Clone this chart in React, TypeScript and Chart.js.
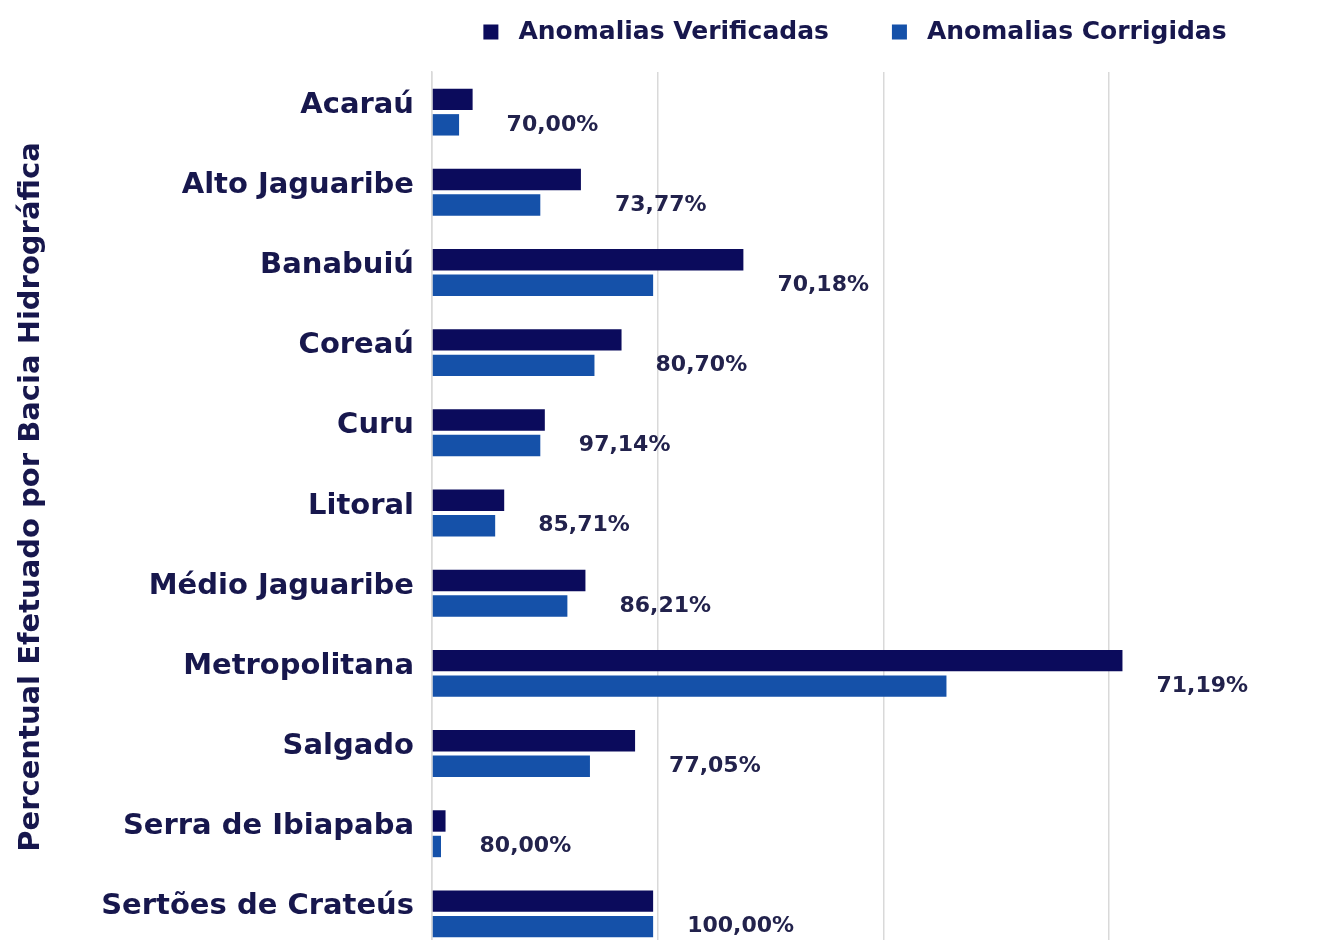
import React, { useEffect, useRef } from "react";
import { Chart, registerables } from "chart.js";

Chart.register(...registerables);

const categories = [
  "Acaraú",
  "Alto Jaguaribe",
  "Banabuiú",
  "Coreaú",
  "Curu",
  "Litoral",
  "Médio Jaguaribe",
  "Metropolitana",
  "Salgado",
  "Serra de Ibiapaba",
  "Sertões de Crateús",
];
const verificadas = [9, 33, 69, 42, 25, 16, 34, 153, 45, 3, 49];
const corrigidas = [6, 24, 49, 36, 24, 14, 30, 114, 35, 2, 49];
const percentLabels = [
  "70,00%",
  "73,77%",
  "70,18%",
  "80,70%",
  "97,14%",
  "85,71%",
  "86,21%",
  "71,19%",
  "77,05%",
  "80,00%",
  "100,00%",
];
const seriesNames = ["Anomalias Verificadas", "Anomalias Corrigidas"];
const axisTitle = "Percentual Efetuado por Bacia Hidrográfica";
const xMax = 195;
const xStep = 50;

const DARK = "#0b0b5c";
const BLUE = "#1551a9";
const TEXT = "#17174d";
const LABEL_TEXT = "#22224c";
const GRID = "#d9d9d9";
const FONT = "'DejaVu Sans', sans-serif";

const legendPlugin = {
  id: "customLegend",
  afterDraw(chart: any) {
    const ctx = chart.ctx;
    ctx.save();
    ctx.font = `bold 25px ${FONT}`;
    ctx.textBaseline = "middle";
    ctx.textAlign = "left";
    const box = 15;
    const gap = 20;
    const itemGap = 63;
    const items = chart.data.datasets.map((d: any) => ({
      label: d.label,
      color: d.backgroundColor,
      w: box + gap + ctx.measureText(d.label).width,
    }));
    const total =
      items.reduce((s: number, it: any) => s + it.w, 0) + itemGap * (items.length - 1);
    let x = 855 - total / 2;
    const cy = 32;
    items.forEach((it: any) => {
      ctx.fillStyle = it.color;
      ctx.fillRect(x, cy - box / 2, box, box);
      ctx.fillStyle = TEXT;
      ctx.fillText(it.label, x + box + gap, cy);
      x += it.w + itemGap;
    });
    ctx.restore();
  },
};

const valueLabelPlugin = {
  id: "valueLabels",
  afterDatasetsDraw(chart: any) {
    const ctx = chart.ctx;
    const m0 = chart.getDatasetMeta(0).data;
    const m1 = chart.getDatasetMeta(1).data;
    ctx.save();
    ctx.font = `bold 22px ${FONT}`;
    ctx.fillStyle = LABEL_TEXT;
    ctx.textBaseline = "middle";
    ctx.textAlign = "left";
    percentLabels.forEach((t, i) => {
      const b0 = m0[i];
      const b1 = m1[i];
      if (!b0 || !b1) return;
      ctx.fillText(t, b0.x + 34, b1.y);
    });
    ctx.restore();
  },
};

const titlePlugin = {
  id: "yTitle",
  afterDraw(chart: any) {
    const ctx = chart.ctx;
    ctx.save();
    ctx.translate(31, 497);
    ctx.rotate(-Math.PI / 2);
    ctx.font = `bold 29px ${FONT}`;
    ctx.fillStyle = TEXT;
    ctx.textAlign = "center";
    ctx.textBaseline = "middle";
    ctx.fillText(axisTitle, 0, 0);
    ctx.restore();
  },
};

export default function App() {
  const ref = useRef<HTMLCanvasElement | null>(null);

  useEffect(() => {
    if (!ref.current) return;
    const chart = new Chart(ref.current, {
      type: "bar",
      data: {
        labels: categories,
        datasets: [
          {
            label: seriesNames[0],
            data: verificadas,
            backgroundColor: DARK,
            categoryPercentage: 0.636,
            barPercentage: 0.84,
          },
          {
            label: seriesNames[1],
            data: corrigidas,
            backgroundColor: BLUE,
            categoryPercentage: 0.636,
            barPercentage: 0.84,
          },
        ],
      },
      options: {
        indexAxis: "y",
        responsive: false,
        animation: false,
        layout: { padding: { top: 72, right: 12, bottom: 6, left: 0 } },
        plugins: {
          legend: { display: false },
          tooltip: { enabled: false },
          title: { display: false },
        },
        scales: {
          x: {
            type: "linear",
            min: 0,
            max: xMax,
            ticks: { display: false, stepSize: xStep, includeBounds: false },
            grid: { color: GRID, lineWidth: 1.5, drawTicks: false },
            border: { display: false },
          },
          y: {
            type: "category",
            grid: { display: false, drawTicks: false },
            border: { display: true, color: GRID, width: 1.5 },
            ticks: {
              color: TEXT,
              font: { family: FONT, weight: "bold", size: 29 },
              padding: 18,
              labelOffset: -7,
            },
            afterFit(scale: any) {
              scale.width = 432;
              scale.paddingTop = 0;
              scale.paddingBottom = 0;
            },
          },
        },
      } as any,
      plugins: [legendPlugin, valueLabelPlugin, titlePlugin],
    });
    return () => chart.destroy();
  }, []);

  return (
    <div
      style={{
        position: "fixed",
        left: 0,
        top: 0,
        width: 1324,
        height: 940,
        overflow: "hidden",
        background: "#ffffff",
      }}
    >
      <canvas ref={ref} width={1324} height={960} style={{ display: "block" }} />
    </div>
  );
}
